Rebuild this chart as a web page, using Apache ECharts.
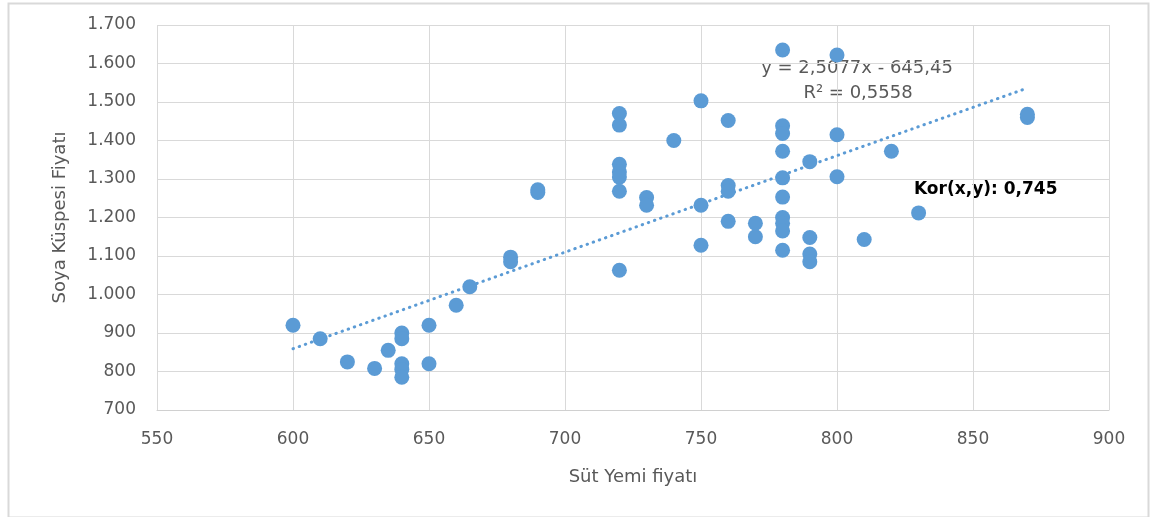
<!DOCTYPE html>
<html>
<head>
<meta charset="utf-8">
<script src="https://cdn.jsdelivr.net/npm/echarts@6/dist/echarts.min.js"></script>
<style>
html,body{margin:0;padding:0;background:#fff;}
#c{width:1152px;height:517px;}
</style>
</head>
<body>
<div id="c"></div>
<script>
// Süt Yemi fiyatı (x) values
const sutYemi = [
  600, 610, 620, 630, 635,
  640, 640, 640, 640, 640,
  650, 650, 660, 665, 680, 680, 690, 690,
  720, 720, 720, 720, 720, 720, 720,
  730, 730, 740, 750, 750, 750,
  760, 760, 760, 760, 770, 770,
  780, 780, 780, 780, 780, 780, 780, 780, 780, 780,
  790, 790, 790, 790, 800, 800, 800,
  810, 820, 830, 870, 870
];
// Soya Küspesi Fiyatı (y) values
const soyaKuspesi = [
  920, 885, 825, 808, 855,
  900, 885, 820, 805, 785,
  920, 820, 972, 1020, 1097, 1085, 1265, 1272,
  1470, 1440, 1338, 1318, 1305, 1268, 1063,
  1252, 1232, 1400, 1503, 1232, 1128,
  1452, 1283, 1268, 1190, 1185, 1150,
  1635, 1438, 1418, 1372, 1303, 1253, 1200, 1185, 1165, 1115,
  1345, 1148, 1105, 1085, 1622, 1415, 1306,
  1143, 1372, 1212, 1460, 1468
];
// Linear trendline (from the chart's equation)
const trendSlope = 2.5077;
const trendIntercept = -645.45;
const trendXRange = [600, 870];
const equationText = 'y = 2,5077x - 645,45';
const r2Text = 'R² = 0,5558';
const korText = 'Kor(x,y): 0,745';
const xTicks = [550, 600, 650, 700, 750, 800, 850, 900];
const yTicks = [700, 800, 900, 1000, 1100, 1200, 1300, 1400, 1500, 1600, 1700];

const points = sutYemi.map((x, i) => [x, soyaKuspesi[i]]);
const trend = trendXRange.map(x => [x, trendSlope * x + trendIntercept]);

const fmtY = v => {
  const s = String(Math.round(v));
  return s.length > 3 ? s.slice(0, s.length - 3) + '.' + s.slice(-3) : s;
};
const FONT = 'DejaVu Sans';
const chart = echarts.init(document.getElementById('c'));
chart.setOption({
  animation: false,
  backgroundColor: '#fff',
  grid: {left: 157, right: 43, top: 25, bottom: 107},
  xAxis: {
    type: 'value', min: xTicks[0], max: xTicks[xTicks.length - 1], interval: 50,
    name: 'Süt Yemi fiyatı', nameLocation: 'middle', nameGap: 58,
    nameTextStyle: {color: '#595959', fontSize: 18, fontFamily: FONT},
    axisLine: {show: true, lineStyle: {color: '#d0d0d0', width: 1}},
    axisTick: {show: false},
    axisLabel: {color: '#595959', fontSize: 17, fontFamily: FONT, margin: 21},
    splitLine: {show: true, lineStyle: {color: '#d9d9d9', width: 1}}
  },
  yAxis: {
    type: 'value', min: yTicks[0], max: yTicks[yTicks.length - 1], interval: 100,
    name: 'Soya Küspesi Fiyatı', nameLocation: 'middle', nameGap: 88,
    nameTextStyle: {color: '#595959', fontSize: 18, fontFamily: FONT},
    axisLine: {show: false},
    axisTick: {show: false},
    axisLabel: {color: '#595959', fontSize: 17, fontFamily: FONT, margin: 21, formatter: fmtY},
    splitLine: {show: true, lineStyle: {color: '#d9d9d9', width: 1}}
  },
  series: [
    {
      type: 'scatter', data: points, symbolSize: 15,
      itemStyle: {color: '#5b9bd5', opacity: 1}, z: 3
    },
    {
      type: 'line', data: trend, symbol: 'none', z: 2,
      lineStyle: {color: '#5b9bd5', width: 3, type: [0.5, 6], cap: 'round'}
    }
  ],
  graphic: [
    {type: 'rect', left: 6, top: 1, shape: {width: 1140, height: 514},
     style: {fill: 'none', stroke: '#d9d9d9', lineWidth: 2}, silent: true},
    {type: 'text', x: 857, y: 68, style: {text: equationText, fill: '#595959',
      font: '18px "DejaVu Sans"', textAlign: 'center', textVerticalAlign: 'middle'}},
    {type: 'text', x: 858, y: 93, style: {text: r2Text, fill: '#595959',
      font: '18px "DejaVu Sans"', textAlign: 'center', textVerticalAlign: 'middle'}},
    {type: 'text', x: 914, y: 190, style: {text: korText, fill: '#000',
      font: 'bold 17px "DejaVu Sans"', textAlign: 'left', textVerticalAlign: 'middle'}}
  ]
});
</script>
</body>
</html>
